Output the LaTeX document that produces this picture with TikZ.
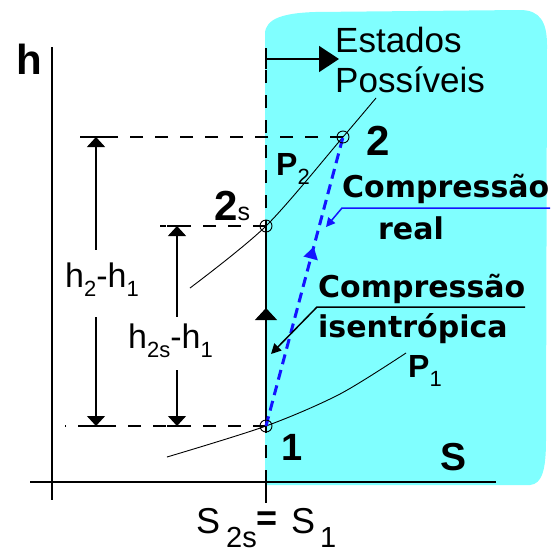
\documentclass[tikz,border=0pt]{standalone}
\usepackage{fontspec}
\setmainfont{Liberation Sans}
\newfontfamily\dvfont{DejaVu Sans}
\usetikzlibrary{arrows.meta,decorations.markings,calc}
\definecolor{cyanbg}{RGB}{128,255,255}
\definecolor{bluel}{RGB}{20,20,255}
\newcommand{\lsub}[1]{\raisebox{-9pt}{\fontsize{22}{22}\selectfont #1}}
\begin{document}
\begin{tikzpicture}[x=1pt,y=-1pt,
  dsh/.style={line width=1.3pt, dash pattern=on 13pt off 12pt},
  axisl/.style={line width=1.4pt},
  iso/.style={line width=0.9pt},
  ptc/.style={circle, draw, minimum size=12pt, inner sep=0pt, line width=0.9pt},
  lab/.style={anchor=base west, inner sep=0pt},
  bigbold/.style={lab, font=\dvfont\bfseries\fontsize{30}{30}\selectfont},
  thin/.style={lab, font=\fontsize{34}{34}\selectfont}
]
\useasboundingbox (0,0) rectangle (556,555);
% background region
\fill[cyanbg] (265,485) -- (265,34) .. controls (265,18) and (285,13) .. (315,12)
  -- (520,10) .. controls (540,10) and (547,22) .. (547,45)
  -- (546,440) .. controls (546,470) and (542,484) .. (530,485) -- cycle;

% points
\coordinate (c1) at (266,426);
\coordinate (c2s) at (266,226);
\coordinate (c2) at (343,137);

% axes
\coordinate (ya) at (52,47);
\coordinate (yb) at (52,500);
\coordinate (xa) at (30,482);
\coordinate (xb) at (496,482);
\draw[axisl] (ya) -- (yb);
\draw[axisl] (xa) -- (xb);

% dashed guide lines
\coordinate (vtop) at (266,70);
\coordinate (vax) at (266,482);
\coordinate (vbot) at (266,503);
\draw[dsh] (vtop) -- (vax);
\draw[axisl] (vax) -- (vbot);
\coordinate (g2) at (80,137);
\coordinate (g2s) at (160,226);
\coordinate (g1) at (65,426);
\draw[dsh] (c2) -- (g2);
\draw[dsh] (c2s) -- (g2s);
\draw[dsh] (c1) -- (g1);

% top arrow "Estados possiveis"
\coordinate (ta) at (266,59);
\coordinate (tb) at (339,59);
\draw[line width=1.5pt] ([yshift=-10pt]ta) -- ([yshift=11pt]ta);
\draw[line width=1.5pt, -{Triangle[length=20pt,width=26pt]}] (ta) -- (tb);
\node[lab, font=\fontsize{35}{35}\selectfont] (est) at (335,52) {Estados};
\node[lab, font=\fontsize{35}{35}\selectfont] (pos) at (335,92) {Possíveis};

% dimension arrows
\coordinate (a1t) at (96,137);
\coordinate (a1m) at (96,250);
\coordinate (a1n) at (96,317);
\coordinate (a1b) at (96,426);
\draw[line width=1.3pt, {Triangle[length=10pt,width=18pt]}-] (a1t) -- (a1m);
\draw[line width=1.3pt, -{Triangle[length=10pt,width=18pt]}] (a1n) -- (a1b);
\draw[line width=1.3pt] ([xshift=-10pt]a1t) -- ([xshift=10pt]a1t);
\draw[line width=1.3pt] ([xshift=-10pt]a1b) -- ([xshift=10pt]a1b);
\coordinate (a2t) at (177,226);
\coordinate (a2m) at (177,317);
\coordinate (a2n) at (177,370);
\coordinate (a2b) at (177,426);
\draw[line width=1.3pt, {Triangle[length=10pt,width=18pt]}-] (a2t) -- (a2m);
\draw[line width=1.3pt, -{Triangle[length=10pt,width=18pt]}] (a2n) -- (a2b);
\draw[line width=1.3pt] ([xshift=-10pt]a2t) -- ([xshift=10pt]a2t);
\draw[line width=1.3pt] ([xshift=-10pt]a2b) -- ([xshift=10pt]a2b);
\node[thin] (dh1) at (65,287) {h\lsub{2}-h\lsub{1}};
\node[thin] (dh2) at (128,348) {h\lsub{2s}-h\lsub{1}};

% isobars
\coordinate (i2a) at (190,288);
\coordinate (i2b) at (376,98);
\draw[iso] plot[smooth] coordinates {(i2a) (c2s) (c2) (i2b)};
\coordinate (i1a) at (167,457);
\coordinate (i1m) at (340,394);
\coordinate (i1b) at (406,353);
\draw[iso] plot[smooth] coordinates {(i1a) (c1) (i1m) (i1b)};

% isentropic compression
\draw[line width=1.8pt] (c1) -- (c2s);
\draw[line width=1pt, -{Triangle[length=12pt,width=22pt]}] (c1) -- ($(c1)!0.59!(c2s)$);

% real compression
\draw[bluel, line width=3pt, dash pattern=on 10pt off 6pt,
  postaction={decorate, decoration={markings,
    mark=at position 0.62 with {\arrow{Triangle[length=12pt,width=14pt]}}}}] (c1) -- (c2);

% point markers
\node[ptc] (p1) at (c1) {};
\node[ptc] (p2s) at (c2s) {};
\node[ptc] (p2) at (c2) {};

% leaders
\coordinate (bl1) at (550,208);
\coordinate (bl2) at (342,208);
\coordinate (blt) at (326,227);
\draw[bluel, line width=1.5pt, -{Triangle[length=9pt,width=9pt]}] (bl1) -- (bl2) -- (blt);
\coordinate (kl1) at (525,307);
\coordinate (kl2) at (317,307);
\coordinate (klt) at (271,354);
\draw[line width=1.5pt, -{Triangle[length=10pt,width=10pt]}] (kl1) -- (kl2) -- (klt);

% labels
\node[bigbold] (cr) at (342,197) {Compressão};
\node[bigbold] (rl) at (378,239) {real};
\node[bigbold] (ci) at (318,297) {Compressão};
\node[bigbold] (is) at (318,337) {isentrópica};

\node[lab, font=\bfseries\fontsize{42}{42}\selectfont] (hl) at (16,74) {h};
\node[lab, font=\bfseries\fontsize{42}{42}\selectfont] (l2) at (366,155) {2};
\node[lab] (l2s) at (214,220) {\bfseries\fontsize{42}{42}\selectfont 2\mdseries\fontsize{25}{25}\selectfont s};
\node[lab, font=\bfseries\fontsize{38}{38}\selectfont] (l1) at (281,460) {1};
\node[lab, font=\bfseries\fontsize{39}{39}\selectfont] (ls) at (440,470) {S};
\node[lab, font=\bfseries\fontsize{32}{32}\selectfont] (lp2) at (276,175) {P\lsub{\mdseries 2}};
\node[lab, font=\bfseries\fontsize{32}{32}\selectfont] (lp1) at (408,377) {P\lsub{\mdseries 1}};

% S2s = S1
\node[lab, font=\fontsize{36}{36}\selectfont] (sa) at (196,533) {S};
\node[lab, font=\fontsize{29}{29}\selectfont] (sb) at (226,547) {2s};
\node[font=\bfseries\fontsize{36}{36}\selectfont, inner sep=0pt] (seq) at (267,521) {=};
\node[lab, font=\fontsize{36}{36}\selectfont] (sc) at (291,533) {S};
\node[lab, font=\fontsize{29}{29}\selectfont] (sd) at (320,547) {1};
\end{tikzpicture}
\end{document}
